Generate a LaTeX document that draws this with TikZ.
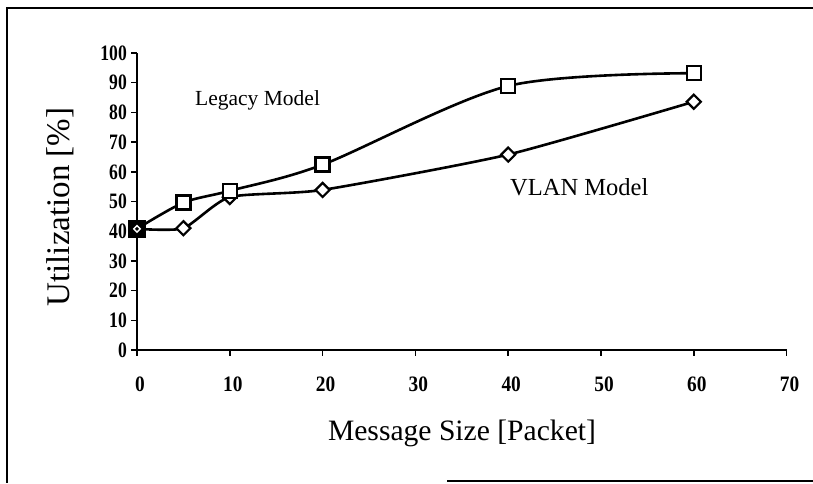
\documentclass[tikz,border=0pt]{standalone}
\usepackage{fontspec}
\usepackage{graphicx}
\setmainfont{Liberation Serif}
\usetikzlibrary{shapes.geometric}
\begin{document}
\begin{tikzpicture}[x=1pt,y=-1pt,
  frameline/.style={line width=2pt},
  axisline/.style={line width=2pt},
  tickmark/.style={line width=1.5pt},
  curve/.style={line width=2.6pt, line join=round, line cap=round},
  sqmark/.style={draw, rectangle, fill=white, line width=2.4pt, minimum size=14pt, inner sep=0pt},
  dmmark/.style={draw, diamond, fill=white, line width=2.2pt, minimum size=15pt, inner sep=0pt, aspect=1},
  ticklabel/.style={font=\fontsize{22}{22}\selectfont\bfseries, inner sep=0pt},
  curvelabel/.style={inner sep=0pt},
]
\useasboundingbox (0,0) rectangle (813,483);
% frame
\draw[frameline] (813,8) -- (7,8) -- (7,483);
\draw[frameline] (447,481) -- (813,481);
% axis titles and labels
\node[curvelabel, anchor=base, rotate=90, font=\fontsize{33}{33}\selectfont] (ytitle) at (69,207) {Utilization [\%]};
\node[curvelabel, anchor=base, font=\fontsize{29.6}{30}\selectfont] (xtitle) at (462,440) {Message Size [Packet]};
\node[curvelabel, anchor=base west, font=\fontsize{21.5}{22}\selectfont] (leg) at (195,105) {Legacy Model};
\node[curvelabel, anchor=base west, font=\fontsize{24.5}{25}\selectfont] (vlan) at (510,195) {VLAN Model};
\begin{scope}[shift={(137,350)}, x=9.28pt, y=2.97pt]
  \coordinate (O) at (0,0);
  \coordinate (Xend) at (70,0);
  \coordinate (Ytop) at (0,100);
  \draw[axisline] (Ytop) -- (O) -- (Xend);
  \foreach \v in {0,10,...,100} {
    \draw[tickmark] (0,\v) -- ++(-6pt,0);
    \node[ticklabel, anchor=east] at ([xshift=-10pt]0,\v) {\scalebox{0.8}[1]{\v}};
  }
  \foreach \v in {0,10,...,70} {
    \draw[tickmark] (\v,0) -- ++(0,-6pt);
    \node[ticklabel] at ([xshift=3pt,yshift=-34pt]\v,0) {\scalebox{0.88}[1]{\v}};
  }
  % data
  \coordinate (L0) at (0,40.8);
  \coordinate (L1) at (5,49.6);
  \coordinate (L2) at (10,53.6);
  \coordinate (L3) at (20,62.4);
  \coordinate (L4) at (40,88.9);
  \coordinate (L5) at (60,93.2);
  \coordinate (V0) at (0,40.8);
  \coordinate (V1) at (5,41.0);
  \coordinate (V2) at (10,51.5);
  \coordinate (V3) at (20,53.9);
  \coordinate (V4) at (40,65.8);
  \coordinate (V5) at (60,83.6);
  \draw[curve] plot[smooth, tension=0.5] coordinates {(L0) (L1) (L2) (L3) (L4) (L5)};
  \draw[curve] plot[smooth, tension=0.35] coordinates {(V0) (V1) (V2) (V3) (V4) (V5)};
  \foreach \i in {1,...,5} {
    \node[dmmark] (mV\i) at (V\i) {};
    \node[sqmark] (mL\i) at (L\i) {};
  }
  \node[sqmark, fill=black, minimum size=16pt] (mL0) at (L0) {};
  \node[draw=white, diamond, aspect=1, line width=1.4pt, minimum size=7pt, inner sep=0pt] (mV0) at (V0) {};
\end{scope}
\end{tikzpicture}
\end{document}
